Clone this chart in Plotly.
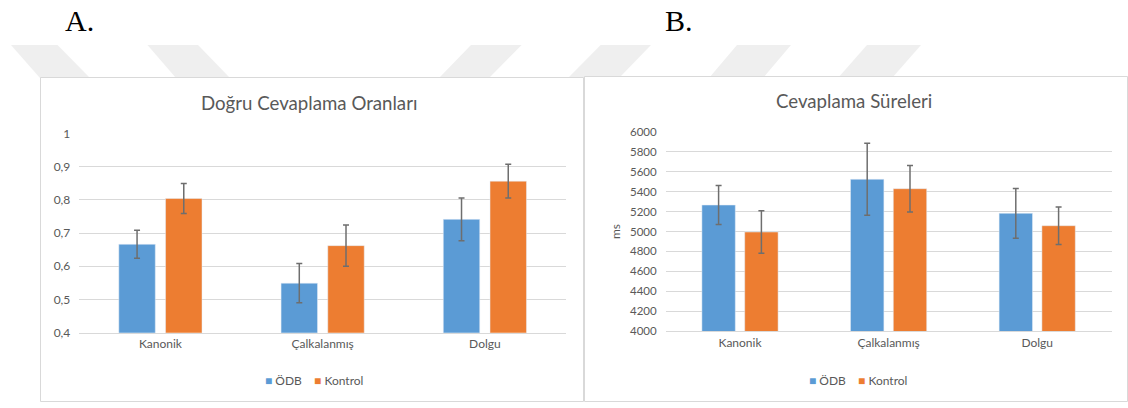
import plotly.graph_objects as go

# ---------------- data ----------------
categories = ["Kanonik", "Çalkalanmış", "Dolgu"]
series_names = ["ÖDB", "Kontrol"]

acc_odb = [0.666, 0.549, 0.741]
acc_odb_err = [0.042, 0.059, 0.064]
acc_kontrol = [0.804, 0.662, 0.856]
acc_kontrol_err = [0.045, 0.062, 0.051]

rt_odb = [5265, 5523, 5182]
rt_odb_err = [195, 361, 250]
rt_kontrol = [4995, 5429, 5058]
rt_kontrol_err = [213, 233, 188]

acc_tickvals = [0.4, 0.5, 0.6, 0.7, 0.8, 0.9, 1.0]
acc_ticktext = ["0,4", "0,5", "0,6", "0,7", "0,8", "0,9", "1"]
rt_tickvals = [4000, 4200, 4400, 4600, 4800, 5000, 5200, 5400, 5600, 5800, 6000]

title_a = "Doğru Cevaplama Oranları"
title_b = "Cevaplama Süreleri"
y_title_b = "ms"

# ---------------- style ----------------
W, H = 1128, 408
BLUE = "#5b9bd5"
ORANGE = "#ed7d31"
ERR = "#6e6e6e"
TXT = "#595959"
GRID = "#d9d9d9"
FONT = "Lato"


def px(x):
    return x / W


def py(y):
    return 1 - y / H


fig = go.Figure()


def err(arr):
    return dict(type="data", array=arr, color=ERR, thickness=1.5, width=3)


fig.add_trace(go.Bar(x=categories, y=acc_odb, name=series_names[0], marker_color=BLUE,
                     error_y=err(acc_odb_err), xaxis="x", yaxis="y", showlegend=False))
fig.add_trace(go.Bar(x=categories, y=acc_kontrol, name=series_names[1], marker_color=ORANGE,
                     error_y=err(acc_kontrol_err), xaxis="x", yaxis="y", showlegend=False))
fig.add_trace(go.Bar(x=categories, y=rt_odb, name=series_names[0], marker_color=BLUE,
                     error_y=err(rt_odb_err), xaxis="x2", yaxis="y2", showlegend=False))
fig.add_trace(go.Bar(x=categories, y=rt_kontrol, name=series_names[1], marker_color=ORANGE,
                     error_y=err(rt_kontrol_err), xaxis="x2", yaxis="y2", showlegend=False))

axis_font = dict(family=FONT, size=12, color=TXT)

shapes = []
# watermark stripes (background decoration)
stripes = [((11, 57.5), (40, 90)), ((147.5, 198), (176, 230)), ((471, 521.6), (439, 489)),
           ((600.7, 651), (568, 619)), ((737, 791), (709, 763)), ((867, 921), (838, 892))]
for (t0, t1), (b0, b1) in stripes:
    path = (f"M{px(t0)},{py(45)} L{px(t1)},{py(45)} L{px(b1)},{py(78)} L{px(b0)},{py(78)} Z")
    shapes.append(dict(type="path", path=path, xref="paper", yref="paper",
                       fillcolor="#efefef", line=dict(width=0), layer="below"))
# chart frames
for x0, x1, y0, y1 in [(40.5, 583.5, 77.5, 401.5), (584.5, 1127.5, 76.5, 401.5)]:
    shapes.append(dict(type="rect", xref="paper", yref="paper",
                       x0=px(x0), x1=px(x1), y0=py(y1), y1=py(y0),
                       line=dict(color=GRID, width=1), fillcolor="white", layer="below"))

leg_text = (f"<span style='color:{BLUE}'>■</span>\u00a0{series_names[0]}\u00a0\u00a0\u00a0\u00a0"
            f"<span style='color:{ORANGE}'>■</span>\u00a0{series_names[1]}")


def ann(text, x, y, font):
    return dict(text=text, x=px(x), y=py(y), xref="paper", yref="paper", showarrow=False,
                xanchor="center", yanchor="middle", font=font)


annotations = [
    ann("A.", 79, 20, dict(family="Liberation Serif", size=30, color="black")),
    ann("B.", 679, 20, dict(family="Liberation Serif", size=30, color="black")),
    ann(title_a, 308.6, 103.3, dict(family=FONT, size=18.67, color=TXT)),
    ann(title_b, 853.6, 100.7, dict(family=FONT, size=18.67, color=TXT)),
    ann(leg_text, 314, 380, dict(family=FONT, size=12, color=TXT)),
    ann(leg_text, 858, 380, dict(family=FONT, size=12, color=TXT)),
]

fig.update_layout(
    width=W, height=H, autosize=False,
    margin=dict(l=0, r=0, t=0, b=0, pad=0),
    paper_bgcolor="white", plot_bgcolor="white",
    barmode="group", bargap=0.424, bargroupgap=0.22,
    showlegend=False,
    font=dict(family=FONT, color=TXT),
    shapes=shapes,
    annotations=annotations,
    xaxis=dict(domain=[px(79.3), px(566)], anchor="y", showgrid=False, ticks="",
               showline=True, linecolor=GRID, tickfont=axis_font, automargin=False),
    yaxis=dict(domain=[py(332.7), py(133.3)], anchor="x", range=[0.4, 1.0],
               tickvals=acc_tickvals, ticktext=acc_ticktext, gridcolor=GRID,
               showline=False, zeroline=False, ticks="", tickfont=axis_font,
               ticklabelstandoff=8, automargin=False),
    xaxis2=dict(domain=[px(665.7), px(1111.5)], anchor="y2", showgrid=False, ticks="",
                showline=True, linecolor=GRID, tickfont=axis_font, automargin=False),
    yaxis2=dict(domain=[py(331.3), py(131.7)], anchor="x2", range=[4000, 6000],
                tickvals=rt_tickvals, gridcolor=GRID, showline=False, zeroline=False,
                ticks="", tickfont=dict(family=FONT, size=11.5, color=TXT),
                ticklabelstandoff=8, automargin=False,
                title=dict(text=y_title_b, font=dict(family=FONT, size=12, color=TXT), standoff=6)),
)

fig.write_html(
    "out.html",
    config={"responsive": False, "displayModeBar": False},
    post_script="document.body.style.margin='0';document.body.style.overflow='hidden';",
)
